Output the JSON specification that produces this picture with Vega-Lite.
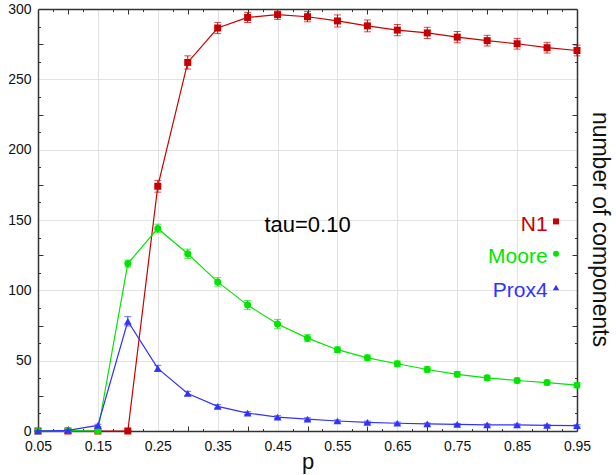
{
  "$schema": "https://vega.github.io/schema/vega-lite/v6.json",
  "width": 539,
  "height": 422,
  "autosize": "none",
  "padding": {"left": 38, "top": 9, "right": 39, "bottom": 44},
  "background": "white",
  "config": {
    "view": {"stroke": null},
    "font": "Liberation Sans",
    "axis": {
      "domainColor": "#333333",
      "domainWidth": 1.5,
      "tickColor": "#333333",
      "tickWidth": 1,
      "labelColor": "#111111",
      "titleColor": "#111111",
      "titleFontWeight": "normal",
      "labelFont": "Liberation Sans",
      "titleFont": "Liberation Sans",
      "gridColor": "#e2e2e2",
      "gridWidth": 1
    }
  },
  "data": {
    "values": [
      {"s": "N1", "p": 0.05, "v": 0, "err": 0},
      {"s": "N1", "p": 0.10, "v": 0, "err": 0},
      {"s": "N1", "p": 0.15, "v": 0, "err": 0},
      {"s": "N1", "p": 0.20, "v": 0, "err": 0.5},
      {"s": "N1", "p": 0.25, "v": 174, "err": 4.2},
      {"s": "N1", "p": 0.30, "v": 262, "err": 4.7},
      {"s": "N1", "p": 0.35, "v": 286.5, "err": 4},
      {"s": "N1", "p": 0.40, "v": 294, "err": 3.6},
      {"s": "N1", "p": 0.45, "v": 296, "err": 3.4},
      {"s": "N1", "p": 0.50, "v": 294.5, "err": 3.6},
      {"s": "N1", "p": 0.55, "v": 291.5, "err": 4.3},
      {"s": "N1", "p": 0.60, "v": 288, "err": 4.2},
      {"s": "N1", "p": 0.65, "v": 285, "err": 4},
      {"s": "N1", "p": 0.70, "v": 283, "err": 4},
      {"s": "N1", "p": 0.75, "v": 280, "err": 4},
      {"s": "N1", "p": 0.80, "v": 277.5, "err": 3.8},
      {"s": "N1", "p": 0.85, "v": 275.3, "err": 3.8},
      {"s": "N1", "p": 0.90, "v": 272.5, "err": 3.8},
      {"s": "N1", "p": 0.95, "v": 270.5, "err": 3.8},
      {"s": "Moore", "p": 0.05, "v": 0, "err": 0},
      {"s": "Moore", "p": 0.10, "v": 0.3, "err": 0.3},
      {"s": "Moore", "p": 0.15, "v": 0, "err": 0},
      {"s": "Moore", "p": 0.20, "v": 119, "err": 2.5},
      {"s": "Moore", "p": 0.25, "v": 144, "err": 3},
      {"s": "Moore", "p": 0.30, "v": 126, "err": 3.3},
      {"s": "Moore", "p": 0.35, "v": 106, "err": 3},
      {"s": "Moore", "p": 0.40, "v": 89.5, "err": 3.2},
      {"s": "Moore", "p": 0.45, "v": 76, "err": 3.3},
      {"s": "Moore", "p": 0.50, "v": 66, "err": 2.5},
      {"s": "Moore", "p": 0.55, "v": 57.8, "err": 2},
      {"s": "Moore", "p": 0.60, "v": 52, "err": 2},
      {"s": "Moore", "p": 0.65, "v": 47.8, "err": 2},
      {"s": "Moore", "p": 0.70, "v": 43.7, "err": 2},
      {"s": "Moore", "p": 0.75, "v": 40.3, "err": 2},
      {"s": "Moore", "p": 0.80, "v": 37.8, "err": 1.8},
      {"s": "Moore", "p": 0.85, "v": 35.9, "err": 1.8},
      {"s": "Moore", "p": 0.90, "v": 34.4, "err": 1.8},
      {"s": "Moore", "p": 0.95, "v": 32.6, "err": 1.8},
      {"s": "Prox4", "p": 0.05, "v": 0, "err": 0},
      {"s": "Prox4", "p": 0.10, "v": 0.5, "err": 0.3},
      {"s": "Prox4", "p": 0.15, "v": 4, "err": 0.8},
      {"s": "Prox4", "p": 0.20, "v": 78, "err": 3.3},
      {"s": "Prox4", "p": 0.25, "v": 44.5, "err": 2.2},
      {"s": "Prox4", "p": 0.30, "v": 26.7, "err": 1.5},
      {"s": "Prox4", "p": 0.35, "v": 17.5, "err": 1.2},
      {"s": "Prox4", "p": 0.40, "v": 12.7, "err": 1},
      {"s": "Prox4", "p": 0.45, "v": 9.9, "err": 1},
      {"s": "Prox4", "p": 0.50, "v": 8.4, "err": 1},
      {"s": "Prox4", "p": 0.55, "v": 7.1, "err": 0.8},
      {"s": "Prox4", "p": 0.60, "v": 6.2, "err": 0.8},
      {"s": "Prox4", "p": 0.65, "v": 5.5, "err": 0.8},
      {"s": "Prox4", "p": 0.70, "v": 5, "err": 0.7},
      {"s": "Prox4", "p": 0.75, "v": 4.7, "err": 0.7},
      {"s": "Prox4", "p": 0.80, "v": 4.4, "err": 0.7},
      {"s": "Prox4", "p": 0.85, "v": 4.4, "err": 0.7},
      {"s": "Prox4", "p": 0.90, "v": 4, "err": 0.7},
      {"s": "Prox4", "p": 0.95, "v": 3.8, "err": 0.7}
    ]
  },
  "resolve": {"axis": {"x": "independent", "y": "independent"}},
  "layer": [
    {
      "transform": [{"filter": "datum.s === 'N1'"}],
      "mark": {"type": "line", "color": "#c80000", "strokeWidth": 1.2},
      "encoding": {
        "x": {"field": "p", "type": "quantitative",
          "scale": {"domain": [0.05, 0.95], "nice": false, "zero": false},
          "axis": {"orient": "bottom", "values": [0.05, 0.15, 0.25, 0.35, 0.45, 0.55, 0.65, 0.75, 0.85, 0.95],
            "format": ".2f", "grid": true, "ticks": false, "tickSize": 0, "domain": true,
            "labelFontSize": 14, "labelPadding": 8, "labelFlush": false, "labelOverlap": false,
            "title": "p", "titleFontSize": 22, "titlePadding": -2}},
        "y": {"field": "v", "type": "quantitative",
          "scale": {"domain": [0, 300], "nice": false, "zero": false},
          "axis": {"orient": "left", "values": [0, 50, 100, 150, 200, 250, 300],
            "grid": true, "ticks": false, "tickSize": 0, "domain": true,
            "labelFontSize": 14, "labelPadding": 7, "labelFlush": false, "labelOverlap": false,
            "title": null}}
      }
    },
    {
      "transform": [{"filter": "datum.s === 'N1'"}],
      "mark": {"type": "errorbar", "color": "#c80000", "thickness": 1, "ticks": {"size": 7, "thickness": 1}},
      "encoding": {
        "x": {"field": "p", "type": "quantitative", "axis": null},
        "y": {"field": "v", "type": "quantitative", "axis": null},
        "yError": {"field": "err"}
      }
    },
    {
      "transform": [{"filter": "datum.s === 'N1'"}],
      "mark": {"type": "point", "shape": "square", "filled": true, "size": 49, "color": "#c80000", "opacity": 1},
      "encoding": {
        "x": {"field": "p", "type": "quantitative",
          "axis": {"orient": "top", "values": [0.1, 0.2, 0.3, 0.4, 0.5, 0.6, 0.7, 0.8, 0.9],
            "labels": false, "grid": false, "domain": true, "ticks": true, "tickSize": -5, "title": null}},
        "y": {"field": "v", "type": "quantitative",
          "axis": {"orient": "right", "values": [25, 75, 125, 175, 225, 275],
            "labels": false, "grid": false, "domain": true, "ticks": true, "tickSize": -5,
            "title": "number of components", "titleFontSize": 23, "titlePadding": 10, "titleY": 220}}
      }
    },
    {
      "transform": [{"filter": "datum.s === 'Moore'"}],
      "mark": {"type": "line", "color": "#00e600", "strokeWidth": 1.2},
      "encoding": {
        "x": {"field": "p", "type": "quantitative",
          "axis": {"orient": "bottom", "values": [0.1, 0.2, 0.3, 0.4, 0.5, 0.6, 0.7, 0.8, 0.9],
            "labels": false, "grid": false, "domain": false, "ticks": true, "tickSize": -5, "title": null}},
        "y": {"field": "v", "type": "quantitative",
          "axis": {"orient": "left", "values": [25, 75, 125, 175, 225, 275],
            "labels": false, "grid": false, "domain": false, "ticks": true, "tickSize": -5, "title": null}}
      }
    },
    {
      "transform": [{"filter": "datum.s === 'Moore'"}],
      "mark": {"type": "errorbar", "color": "#00e600", "thickness": 1, "ticks": {"size": 7, "thickness": 1}},
      "encoding": {
        "x": {"field": "p", "type": "quantitative", "axis": null},
        "y": {"field": "v", "type": "quantitative", "axis": null},
        "yError": {"field": "err"}
      }
    },
    {
      "transform": [{"filter": "datum.s === 'Moore'"}],
      "mark": {"type": "point", "shape": "circle", "filled": true, "size": 49, "color": "#00e600", "opacity": 1},
      "encoding": {
        "x": {"field": "p", "type": "quantitative",
          "axis": {"orient": "top", "values": [0.075, 0.125, 0.175, 0.225, 0.275, 0.325, 0.375, 0.425, 0.475, 0.525, 0.575, 0.625, 0.675, 0.725, 0.775, 0.825, 0.875, 0.925],
            "labels": false, "grid": false, "domain": false, "ticks": true, "tickSize": -2.5, "title": null}},
        "y": {"field": "v", "type": "quantitative",
          "axis": {"orient": "right", "values": [12.5, 37.5, 62.5, 87.5, 112.5, 137.5, 162.5, 187.5, 212.5, 237.5, 262.5, 287.5],
            "labels": false, "grid": false, "domain": false, "ticks": true, "tickSize": -2.5, "title": null}}
      }
    },
    {
      "transform": [{"filter": "datum.s === 'Prox4'"}],
      "mark": {"type": "line", "color": "#3232ff", "strokeWidth": 1.2},
      "encoding": {
        "x": {"field": "p", "type": "quantitative",
          "axis": {"orient": "bottom", "values": [0.075, 0.125, 0.175, 0.225, 0.275, 0.325, 0.375, 0.425, 0.475, 0.525, 0.575, 0.625, 0.675, 0.725, 0.775, 0.825, 0.875, 0.925],
            "labels": false, "grid": false, "domain": false, "ticks": true, "tickSize": -2.5, "title": null}},
        "y": {"field": "v", "type": "quantitative",
          "axis": {"orient": "left", "values": [12.5, 37.5, 62.5, 87.5, 112.5, 137.5, 162.5, 187.5, 212.5, 237.5, 262.5, 287.5],
            "labels": false, "grid": false, "domain": false, "ticks": true, "tickSize": -2.5, "title": null}}
      }
    },
    {
      "transform": [{"filter": "datum.s === 'Prox4'"}],
      "mark": {"type": "errorbar", "color": "#3232ff", "thickness": 1, "ticks": {"size": 7, "thickness": 1}},
      "encoding": {
        "x": {"field": "p", "type": "quantitative", "axis": null},
        "y": {"field": "v", "type": "quantitative", "axis": null},
        "yError": {"field": "err"}
      }
    },
    {
      "transform": [{"filter": "datum.s === 'Prox4'"}],
      "mark": {"type": "point", "shape": "triangle-up", "filled": true, "size": 60, "color": "#3232ff", "opacity": 1},
      "encoding": {
        "x": {"field": "p", "type": "quantitative", "axis": null},
        "y": {"field": "v", "type": "quantitative", "axis": null}
      }
    },
    {
      "data": {"values": [{"label": "tau=0.10"}]},
      "mark": {"type": "text", "fontSize": 22, "align": "center", "baseline": "middle", "color": "#000000"},
      "encoding": {
        "x": {"datum": 0.5, "type": "quantitative", "axis": null},
        "y": {"datum": 146.7, "type": "quantitative", "axis": null},
        "text": {"field": "label"}
      }
    },
    {
      "data": {"values": [{"label": "N1"}]},
      "mark": {"type": "text", "fontSize": 21, "align": "right", "baseline": "middle", "color": "#c80000"},
      "encoding": {
        "x": {"datum": 0.901, "type": "quantitative", "axis": null},
        "y": {"datum": 146.5, "type": "quantitative", "axis": null},
        "text": {"field": "label"}
      }
    },
    {
      "data": {"values": [{"label": "Moore"}]},
      "mark": {"type": "text", "fontSize": 21, "align": "right", "baseline": "middle", "color": "#00e600"},
      "encoding": {
        "x": {"datum": 0.901, "type": "quantitative", "axis": null},
        "y": {"datum": 123.4, "type": "quantitative", "axis": null},
        "text": {"field": "label"}
      }
    },
    {
      "data": {"values": [{"label": "Prox4"}]},
      "mark": {"type": "text", "fontSize": 21, "align": "right", "baseline": "middle", "color": "#3232ff"},
      "encoding": {
        "x": {"datum": 0.901, "type": "quantitative", "axis": null},
        "y": {"datum": 99.8, "type": "quantitative", "axis": null},
        "text": {"field": "label"}
      }
    },
    {
      "data": {"values": [{"label": "N1"}]},
      "mark": {"type": "point", "shape": "square", "filled": true, "size": 36, "color": "#c80000", "opacity": 1},
      "encoding": {
        "x": {"datum": 0.915, "type": "quantitative", "axis": null},
        "y": {"datum": 149, "type": "quantitative", "axis": null}
      }
    },
    {
      "data": {"values": [{"label": "Moore"}]},
      "mark": {"type": "point", "shape": "circle", "filled": true, "size": 36, "color": "#00e600", "opacity": 1},
      "encoding": {
        "x": {"datum": 0.915, "type": "quantitative", "axis": null},
        "y": {"datum": 126, "type": "quantitative", "axis": null}
      }
    },
    {
      "data": {"values": [{"label": "Prox4"}]},
      "mark": {"type": "point", "shape": "triangle-up", "filled": true, "size": 40, "color": "#3232ff", "opacity": 1},
      "encoding": {
        "x": {"datum": 0.915, "type": "quantitative", "axis": null},
        "y": {"datum": 102, "type": "quantitative", "axis": null}
      }
    }
  ]
}
